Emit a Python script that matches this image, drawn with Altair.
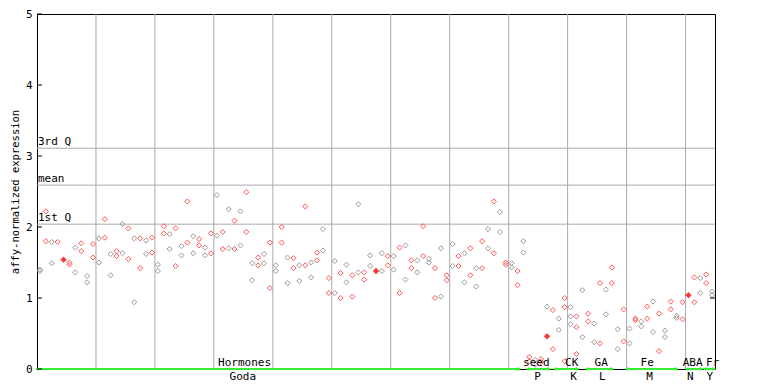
import altair as alt
import pandas as pd

# ---- data ----
sample = [0,0, 1,1, 2,2, 3, 5,5, 6,6, 7,7, 8,8, 9,9, 10,10, 11,11, 12,12, 13,13, 14,14,
          15,15, 16,16, 17,17, 18,18, 19,19, 20,20, 21,21, 22,22, 23,23, 24,24, 25,25,
          26,26, 27,27, 28,28, 29,29, 30,30, 31,31, 32,32, 33,33, 34,34, 35,35, 36,36,
          37,37, 38,38, 39,39, 40,40, 41,41, 42,42, 43,43, 44,44, 45,45, 46,46, 47,47,
          48,48, 49,49, 50,50, 51,51, 52,52, 53,53, 54,54, 55,55, 56,56, 58,58, 59,59,
          60,60, 61,61, 62,62, 63,63, 64,64, 65,65, 66,66, 67,67, 68,68, 69,69, 70,70,
          71,71, 72,72, 73,73, 74,74, 75,75, 76,76, 77,77, 78,78, 79,79, 80,80, 81,81,
          82,82, 83,83, 84,84, 85,85, 86, 87,87, 88,88, 89,89,89, 90,90,90, 91,91,91,
          92,92, 93,93, 94,94, 95,95, 96,96, 97,97, 98,98, 99,99, 100,100, 101,101,
          102,102, 103,103, 104,104, 105,105, 106,106, 107,107, 108,108, 109,109,
          111,111, 112,112, 113,113, 114,114]
expression = [1.40,1.38, 2.22,1.80, 1.79,1.49, 1.79, 1.50,1.47, 1.71,1.36, 1.77,1.66,
              1.31,1.22, 1.76,1.57, 1.84,1.50, 2.11,1.85, 1.62,1.32, 1.66,1.59, 2.04,1.63,
              1.98,1.55, 1.84,0.94, 1.84,1.42, 1.81,1.62, 1.85,1.64, 1.47,1.38, 2.01,1.91,
              1.90,1.69, 1.98,1.45, 1.73,1.60, 2.36,1.78, 1.87,1.63, 1.83,1.74, 1.71,1.60,
              1.91,1.63, 2.45,1.88, 1.93,1.69, 2.25,1.70, 2.09,1.69, 2.22,1.74, 2.49,1.93,
              1.49,1.25, 1.57,1.46, 1.62,1.49, 1.78,1.14, 1.46,1.38, 2.00,1.78, 1.57,1.21,
              1.56,1.42, 1.46,1.24, 2.29,1.46, 1.50,1.29, 1.64,1.53, 1.97,1.67, 1.28,1.07,
              1.52,1.07, 1.35,1.00, 1.47,1.22, 1.32,1.02, 2.32,1.36, 1.36,1.26, 1.60,1.45,
              1.63,1.38, 1.59,1.46, 1.59,1.40, 1.71,1.07, 1.74,1.26, 1.53,1.42, 1.53,1.36,
              2.01,1.59, 1.55,1.50, 1.42,1.00, 1.70,1.02, 1.32,1.25, 1.76,1.45, 1.59,1.45,
              1.63,1.22, 1.70,1.32, 1.42,1.16, 1.80,1.42, 1.97,1.70, 2.36,1.63, 2.21,1.93,
              1.50,1.47, 1.49,1.43, 1.38,1.18, 1.80,1.64, 0.17,0.11, 0.06,0.13, 0.14,0.10,
              0.88, 0.83,0.28, 0.71,0.55, 1.00,0.87,0.11, 0.87,0.74,0.63, 0.74,0.59,0.21,
              1.11,0.45, 0.78,0.67, 0.64,0.38, 1.21,0.36, 1.12,0.77, 1.43,1.21, 0.56,0.28,
              0.84,0.39, 0.57,0.36, 0.71,0.69, 0.67,0.60, 0.88,0.71, 0.95,0.52, 0.78,0.25,
              0.54,0.45, 0.95,0.84, 0.75,0.72, 0.94,0.70, 1.29,0.94, 1.28,1.07, 1.33,1.21,
              1.09,1.04]

mean_sample = [4, 57, 86, 110]
mean_value = [1.54, 1.38, 0.46, 1.04]

stat_names = ["3rd Q", "mean", "1st Q"]
stat_values = [3.11, 2.59, 2.04]

grid_pos = [9.5, 19.5, 29.5, 39.5, 49.5, 59.5, 69.5, 79.5, 89.5, 99.5, 109.5]

group_top = ["Hormones", "seed", "CK", "GA", "Fe", "ABA", "Fr"]
group_top_pos = [34.7, 84.2, 90.2, 95.2, 103.0, 110.7, 114.1]
group_bottom = ["Goda", "P", "K", "L", "M", "N", "Y"]
group_bottom_pos = [34.4, 84.4, 90.5, 95.4, 103.4, 110.3, 113.6]
seg_start = [-0.5, 82.7, 87.3, 92.7, 99.5, 109.7, 112.7]
seg_end = [81.3, 86.4, 91.2, 97.1, 108.0, 112.2, 114.4]

y_ticks = [0, 1, 2, 3, 4, 5]

# ---- build tables ----
pts = pd.DataFrame({"sample": sample, "expression": expression})
pts["tone"] = ["grey" if s % 2 == 0 else "red" for s in sample]
means = pd.DataFrame({"sample": mean_sample, "expression": mean_value})
stats = pd.DataFrame({"name": stat_names, "value": stat_values})
grid = pd.DataFrame({"pos": grid_pos})
top = pd.DataFrame({"label": group_top, "pos": group_top_pos})
bottom = pd.DataFrame({"label": group_bottom, "pos": group_bottom_pos})
segs = pd.DataFrame({"start": seg_start, "end": seg_end, "zero": [0] * len(seg_start)})
ticks = pd.DataFrame({"v": y_ticks})

W, H = 678, 355
FONT = "DejaVu Sans Mono"
xs = alt.Scale(domain=[-0.5, 114.5], nice=False, zero=False)
ys = alt.Scale(domain=[0, 5], nice=False)
GRID = "#aaaaaa"
GREEN = "#33ee33"

vgrid = alt.Chart(grid).mark_rule(color=GRID, strokeWidth=1).encode(
    x=alt.X("pos:Q", scale=xs, axis=None))

hstat = alt.Chart(stats).mark_rule(color=GRID, strokeWidth=1).encode(
    y=alt.Y("value:Q", scale=ys))

hstat_text = alt.Chart(stats).mark_text(
    align="left", baseline="bottom", font=FONT, fontSize=11, dx=1, dy=-1, color="black"
).encode(x=alt.value(0), y=alt.Y("value:Q", scale=ys), text="name:N")

points = alt.Chart(pts).mark_point(shape="diamond", filled=False, size=26, strokeWidth=1, opacity=1).encode(
    x=alt.X("sample:Q", scale=xs, axis=None),
    y=alt.Y("expression:Q", scale=ys,
            axis=alt.Axis(values=y_ticks, format="d", ticks=False, grid=False, domain=False,
                          labelFont=FONT, labelFontSize=11, labelColor="black",
                          labelPadding=5, title="affy-normalized expression",
                          titleFont=FONT, titleFontSize=10.5, titleFontWeight="normal",
                          titleColor="black", titlePadding=5)),
    color=alt.Color("tone:N", scale=alt.Scale(domain=["grey", "red"], range=["#999999", "#ff5555"]),
                    legend=None))

mean_pts = alt.Chart(means).mark_point(shape="diamond", filled=True, size=40, color="#ff3333", opacity=1).encode(
    x=alt.X("sample:Q", scale=xs), y=alt.Y("expression:Q", scale=ys))

green_line = alt.Chart(segs).mark_rule(color=GREEN, strokeWidth=2).encode(
    x=alt.X("start:Q", scale=xs), x2="end:Q", y=alt.Y("zero:Q", scale=ys))
arrow_l = alt.Chart(segs).mark_point(shape="triangle-left", filled=True, size=18, color=GREEN, opacity=1).encode(
    x=alt.X("start:Q", scale=xs), y=alt.Y("zero:Q", scale=ys))
arrow_r = alt.Chart(segs).mark_point(shape="triangle-right", filled=True, size=18, color=GREEN, opacity=1).encode(
    x=alt.X("end:Q", scale=xs), y=alt.Y("zero:Q", scale=ys))

top_text = alt.Chart(top).mark_text(font=FONT, fontSize=11, baseline="middle", color="black").encode(
    x=alt.X("pos:Q", scale=xs), y=alt.value(H - 6), text="label:N")
bottom_text = alt.Chart(bottom).mark_text(font=FONT, fontSize=11, baseline="middle", color="black").encode(
    x=alt.X("pos:Q", scale=xs), y=alt.value(H + 8), text="label:N")

left_ticks = alt.Chart(ticks).mark_rule(color="black").encode(
    y=alt.Y("v:Q", scale=ys), x=alt.value(0), x2=alt.value(5))
right_tick = alt.Chart(pd.DataFrame({"v": [1]})).mark_rule(color="black").encode(
    y=alt.Y("v:Q", scale=ys), x=alt.value(W - 5), x2=alt.value(W))

chart = alt.layer(
    vgrid, hstat, hstat_text, points, mean_pts, green_line, arrow_l, arrow_r,
    top_text, bottom_text, left_ticks, right_tick
).properties(
    width=W, height=H, autosize="none",
    padding={"left": 29, "top": 6, "right": 40, "bottom": 13},
    background="white"
).configure_view(stroke="black", strokeWidth=1)

chart.save("out.html", embed_options={"renderer": "svg", "actions": False})
